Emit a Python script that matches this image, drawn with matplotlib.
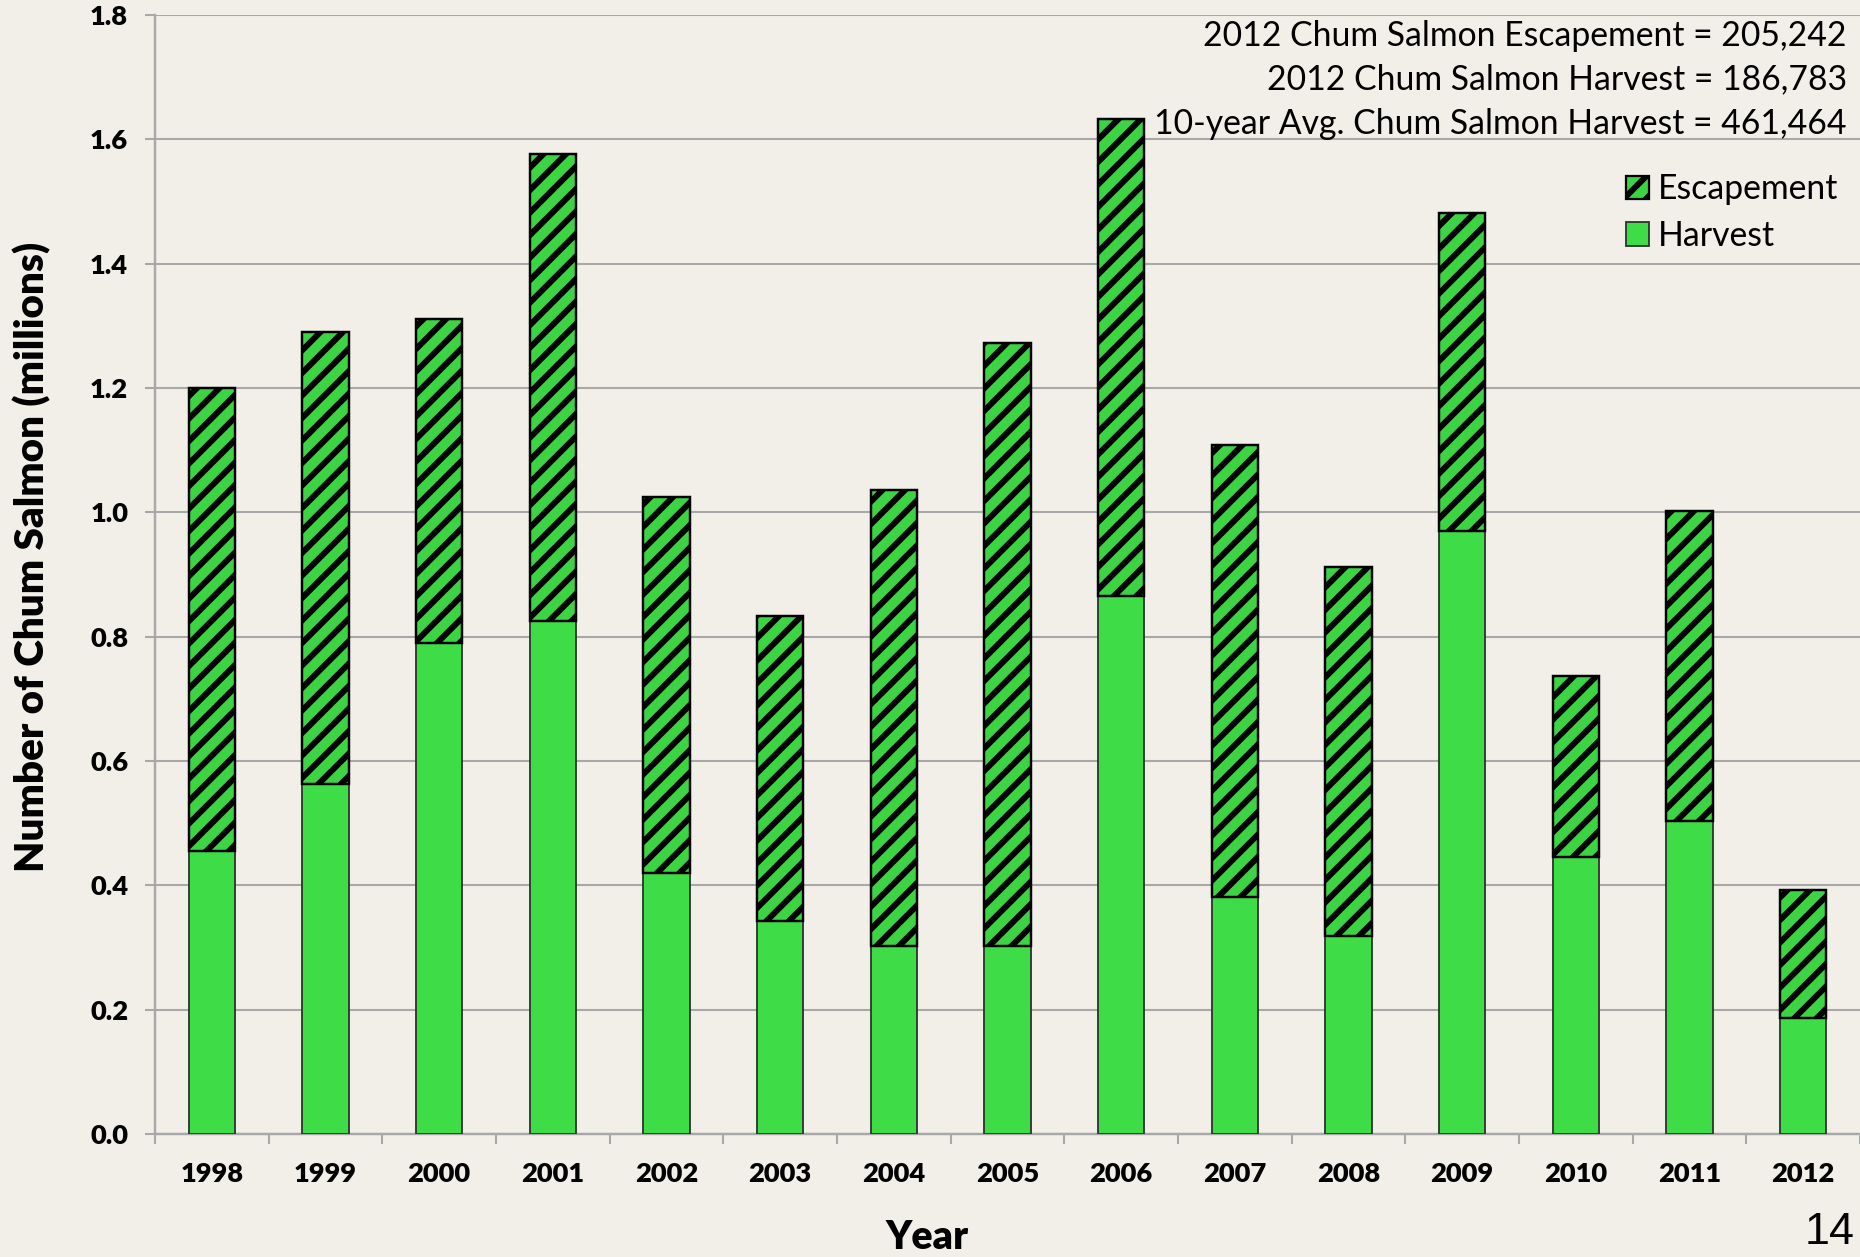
import matplotlib
matplotlib.use("Agg")
import matplotlib.pyplot as plt
from matplotlib.patches import Patch
import numpy as np

# data (millions of fish)
years = ['1998', '1999', '2000', '2001', '2002', '2003', '2004', '2005',
         '2006', '2007', '2008', '2009', '2010', '2011', '2012']
harvest = [0.456, 0.563, 0.790, 0.825, 0.420, 0.342, 0.302, 0.302,
           0.865, 0.382, 0.319, 0.970, 0.445, 0.504, 0.187]
total_run = [1.200, 1.290, 1.311, 1.577, 1.025, 0.834, 1.036, 1.273,
             1.632, 1.109, 0.912, 1.481, 0.737, 1.002, 0.392]
escapement = [t - h for t, h in zip(total_run, harvest)]

notes = ['2012 Chum Salmon Escapement = 205,242',
         '2012 Chum Salmon Harvest = 186,783',
         '10-year Avg. Chum Salmon Harvest = 461,464']

DPI = 135
bg = '#F1EFE7'
green = '#3DD444'
green_h = '#3EDC47'
grid_col = '#A8A8A8'

plt.rcParams['font.family'] = ['Lato', 'DejaVu Sans']
plt.rcParams['hatch.linewidth'] = 3.2
plt.rcParams['hatch.color'] = 'black'

fig = plt.figure(figsize=(1860 / DPI, 1257 / DPI), dpi=DPI, facecolor=bg)
ax = fig.add_axes([155 / 1860, 123 / 1257, 1705 / 1860, 1119 / 1257])
ax.set_facecolor(bg)

x = np.arange(len(years))
ax.bar(x, harvest, width=0.41, color=green_h, edgecolor='#2E3A2E',
       linewidth=1.0, zorder=3)
ax.bar(x, escapement, width=0.41, bottom=harvest, color=green,
       edgecolor='black', linewidth=1.3, hatch='//', zorder=3)

ax.set_xlim(-0.5, len(years) - 0.5)
ax.set_ylim(0, 1.8)
ax.set_yticks(np.arange(0, 1.81, 0.2))
ax.set_yticklabels(['%.1f' % v for v in np.arange(0, 1.81, 0.2)],
                   fontsize=14.5, fontweight='heavy')
ax.set_xticks(x)
ax.set_xticklabels(years, fontsize=14.5, fontweight='heavy')
ax.set_xticks(np.arange(-0.5, len(years), 1.0), minor=True)
ax.tick_params(axis='x', which='major', length=0, pad=15)
ax.tick_params(axis='x', which='minor', length=5.3, width=1.1, color=grid_col)
ax.tick_params(axis='y', length=5.3, width=1.1, color=grid_col, pad=9)

ax.yaxis.grid(True, color=grid_col, linewidth=1.1, zorder=0)
ax.set_axisbelow(True)
for s in ['top', 'right']:
    ax.spines[s].set_visible(False)
for s in ['left', 'bottom']:
    ax.spines[s].set_color(grid_col)
    ax.spines[s].set_linewidth(1.3)

ax.set_ylabel('Number of Chum Salmon (millions)', fontsize=21.5,
              fontweight='heavy')
ax.yaxis.set_label_coords(-0.061, 0.516)
ax.set_xlabel('Year', fontsize=21, fontweight='heavy')
ax.xaxis.set_label_coords(0.453, -0.076)

ys = [0.971, 0.937, 0.901]
for t, yy in zip(notes, ys):
    fig.text(0.993, yy, t, ha='right', va='center', fontsize=18)

handles = [Patch(facecolor=green, edgecolor='black', hatch='//', linewidth=1.2),
           Patch(facecolor=green_h, edgecolor='#2E3A2E', linewidth=1.0)]
ax.legend(handles, ['Escapement', 'Harvest'], loc='upper left',
          bbox_to_anchor=(0.874, 0.862), bbox_transform=fig.transFigure,
          frameon=False, fontsize=18, handlelength=0.7, handleheight=0.7,
          handletextpad=0.25, labelspacing=0.42, borderpad=0, borderaxespad=0)

# page number in the bottom-right corner
fig.text(0.997, 0.003, '14', fontsize=24, family='Liberation Sans',
         ha='right', va='bottom')

fig.savefig('out.png', dpi=DPI, facecolor=bg)
